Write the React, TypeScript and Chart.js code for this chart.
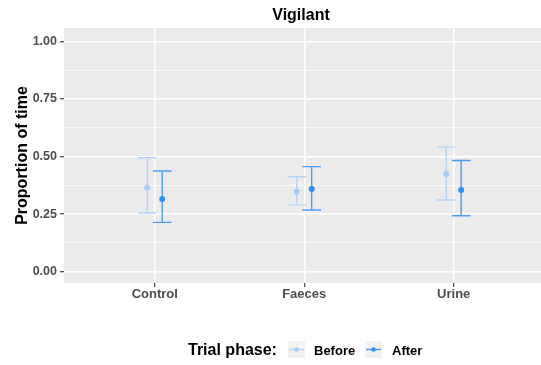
import React, { useEffect, useRef } from 'react';
import { Chart, registerables } from 'chart.js';
Chart.register(...registerables);

const chartTitle = 'Vigilant';
const yAxisTitle = 'Proportion of time';
const legendTitle = 'Trial phase:';
const categories = ['Control', 'Faeces', 'Urine'];
const phases = ['Before', 'After'];
const beforeMean = [0.366, 0.347, 0.424];
const beforeLow = [0.255, 0.29, 0.311];
const beforeHigh = [0.495, 0.412, 0.541];
const afterMean = [0.316, 0.359, 0.355];
const afterLow = [0.214, 0.268, 0.243];
const afterHigh = [0.437, 0.456, 0.483];
const yMajorTicks = [0, 0.25, 0.5, 0.75, 1];
const yMinorTicks = [0.125, 0.375, 0.625, 0.875];

const FONT = '"Liberation Sans", Arial, sans-serif';
const DODGE = 0.05;
const CAP_HALF = 0.062;
const PHASE_COLORS = ['#a6cdf6', '#2f8ff3'];
const BAR_COLORS = ['#b4d5f6', '#4a9df5'];

const isMajor = (v: number) => yMajorTicks.some((t) => Math.abs(t - v) < 1e-9);

const panelPlugin = {
  id: 'ggpanel',
  beforeDraw(chart: any) {
    const { ctx, chartArea: a } = chart;
    ctx.save();
    ctx.fillStyle = '#EBEBEB';
    ctx.fillRect(a.left, a.top, a.right - a.left, a.bottom - a.top);
    ctx.restore();
  },
  beforeDatasetsDraw(chart: any) {
    const ctx = chart.ctx;
    const xs = chart.scales.x;
    const ys = chart.scales.y;
    chart.data.datasets.forEach((ds: any) => {
      ctx.save();
      ctx.strokeStyle = ds.barColor;
      ctx.lineWidth = 1.4;
      ds.data.forEach((p: any, i: number) => {
        const x = xs.getPixelForValue(p.x);
        const x0 = xs.getPixelForValue(p.x - CAP_HALF);
        const x1 = xs.getPixelForValue(p.x + CAP_HALF);
        const yl = ys.getPixelForValue(ds.low[i]);
        const yh = ys.getPixelForValue(ds.high[i]);
        ctx.beginPath();
        ctx.moveTo(x, yl);
        ctx.lineTo(x, yh);
        ctx.moveTo(x0, yl);
        ctx.lineTo(x1, yl);
        ctx.moveTo(x0, yh);
        ctx.lineTo(x1, yh);
        ctx.stroke();
      });
      ctx.restore();
    });
  },
  afterDraw(chart: any) {
    const { ctx, chartArea: a } = chart;
    ctx.save();
    ctx.fillStyle = '#000';
    ctx.font = `bold 16px ${FONT}`;
    ctx.textAlign = 'center';
    ctx.textBaseline = 'alphabetic';
    ctx.fillText(chartTitle, (a.left + a.right) / 2 - 1.5, 19.5);
    ctx.textAlign = 'left';
    ctx.fillText(legendTitle, 188, 355);
    const keyX = [288, 365];
    const labelX = [314, 392];
    const keyTop = 341;
    const key = 17;
    chart.data.datasets.forEach((ds: any, i: number) => {
      ctx.fillStyle = '#F2F2F2';
      ctx.fillRect(keyX[i], keyTop, key, key);
      ctx.strokeStyle = ds.barColor;
      ctx.lineWidth = 1.4;
      ctx.beginPath();
      ctx.moveTo(keyX[i] + 1, keyTop + key / 2);
      ctx.lineTo(keyX[i] + key - 1, keyTop + key / 2);
      ctx.stroke();
      ctx.fillStyle = ds.backgroundColor;
      ctx.beginPath();
      ctx.arc(keyX[i] + key / 2, keyTop + key / 2, 2.3, 0, Math.PI * 2);
      ctx.fill();
      ctx.fillStyle = '#000';
      ctx.font = `bold 13px ${FONT}`;
      ctx.fillText(ds.label, labelX[i], 354.5);
    });
    ctx.restore();
  },
};

export default function App() {
  const ref = useRef<HTMLCanvasElement | null>(null);
  useEffect(() => {
    if (!ref.current) return;
    const mk = (means: number[], lows: number[], highs: number[], idx: number) => ({
      label: phases[idx],
      data: means.map((m, i) => ({ x: i + 1 + (idx === 0 ? -DODGE : DODGE), y: m })),
      low: lows,
      high: highs,
      barColor: BAR_COLORS[idx],
      backgroundColor: PHASE_COLORS[idx],
      borderColor: PHASE_COLORS[idx],
      pointRadius: 3,
      pointBorderWidth: 0,
      showLine: false,
    });
    const chart = new Chart(ref.current, {
      type: 'scatter',
      data: {
        datasets: [
          mk(beforeMean, beforeLow, beforeHigh, 0),
          mk(afterMean, afterLow, afterHigh, 1),
        ] as any,
      },
      plugins: [panelPlugin],
      options: {
        animation: false,
        responsive: false,
        layout: { autoPadding: false, padding: { top: 28, left: 0, right: 0, bottom: 0 } },
        plugins: { legend: { display: false }, tooltip: { enabled: false }, title: { display: false } },
        scales: {
          x: {
            type: 'linear',
            min: 0.393,
            max: 3.584,
            afterBuildTicks: (s: any) => {
              s.ticks = categories.map((_, i) => ({ value: i + 1 }));
            },
            afterFit: (s: any) => {
              s.height = 82;
              s.paddingLeft = 0;
              s.paddingRight = 0;
            },
            ticks: {
              callback: (v: any) => categories[Math.round(v) - 1] ?? '',
              font: { family: FONT, size: 13, weight: 'bold' },
              color: '#4D4D4D',
              padding: 0,
              maxRotation: 0,
              autoSkip: false,
            },
            grid: {
              color: '#FFFFFF',
              lineWidth: 1.4,
              tickLength: 4,
              tickColor: '#333333',
              tickWidth: 1.1,
            },
            border: { display: false },
          },
          y: {
            type: 'linear',
            min: -0.049,
            max: 1.058,
            afterBuildTicks: (s: any) => {
              s.ticks = [...yMajorTicks, ...yMinorTicks].sort((p, q) => p - q).map((v) => ({ value: v }));
            },
            afterFit: (s: any) => {
              s.width = 64;
              s.paddingTop = 0;
              s.paddingBottom = 0;
            },
            ticks: {
              callback: (v: any) => (isMajor(v) ? Number(v).toFixed(2) : ''),
              font: { family: FONT, size: 12.5, weight: 'bold' },
              color: '#4D4D4D',
              padding: 3,
              autoSkip: false,
            },
            grid: {
              color: '#FFFFFF',
              lineWidth: (c: any) => (c.tick && isMajor(c.tick.value) ? 1.4 : 0.7),
              tickLength: 4,
              tickColor: (c: any) => (c.tick && isMajor(c.tick.value) ? '#333333' : 'rgba(0,0,0,0)'),
              tickWidth: 1.1,
            },
            border: { display: false },
            title: {
              display: true,
              text: yAxisTitle,
              color: '#000000',
              font: { family: FONT, size: 16, weight: 'bold' },
              padding: { top: 13.4, bottom: 0 },
            },
          },
        },
      } as any,
    });
    return () => chart.destroy();
  }, []);
  return (
    <div style={{ position: 'fixed', left: 0, top: 0, width: 541, height: 365, background: '#fff' }}>
      <canvas ref={ref} width={541} height={365} style={{ width: 541, height: 365, display: 'block' }} />
    </div>
  );
}
